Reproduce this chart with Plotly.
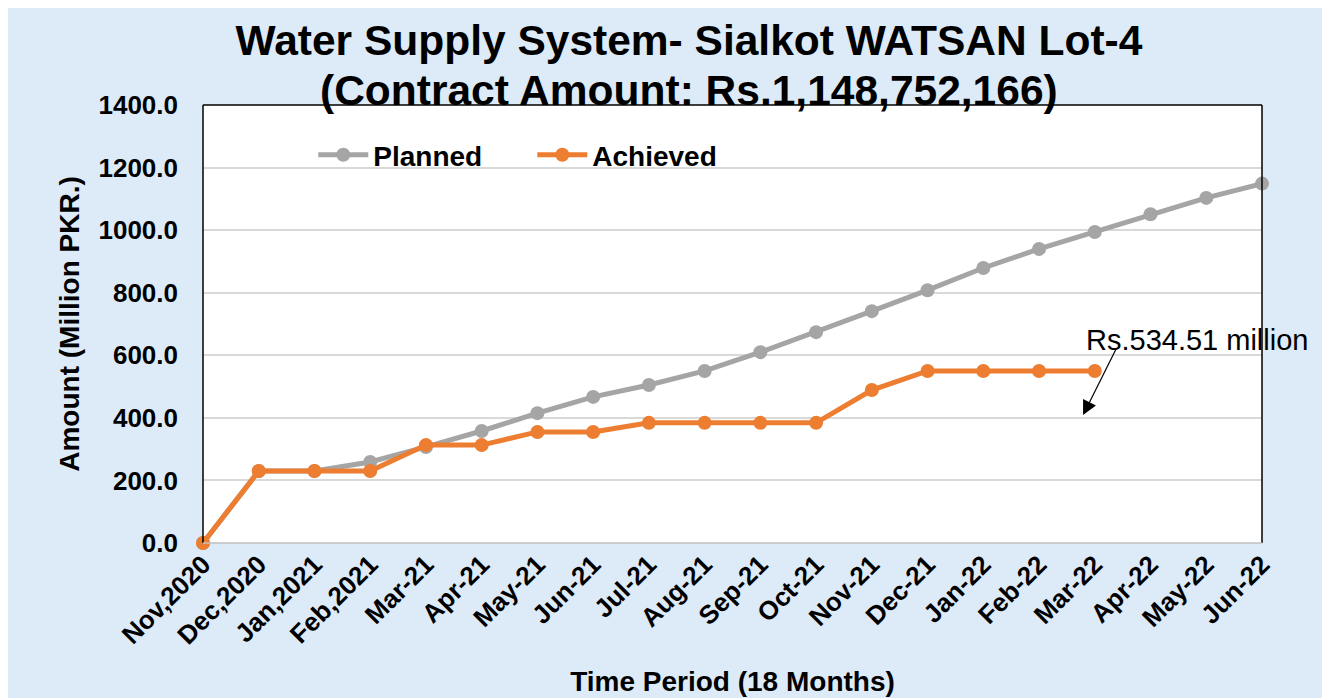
import plotly.graph_objects as go

months = ["Nov,2020", "Dec,2020", "Jan,2021", "Feb,2021", "Mar-21", "Apr-21", "May-21",
          "Jun-21", "Jul-21", "Aug-21", "Sep-21", "Oct-21", "Nov-21", "Dec-21",
          "Jan-22", "Feb-22", "Mar-22", "Apr-22", "May-22", "Jun-22"]
planned = [0, 230, 230, 259, 307, 358, 415, 467, 505, 550, 610, 674, 741, 808,
           879, 940, 994, 1051, 1103, 1148.75]
achieved = [0, 230, 230, 230, 313, 313, 355, 355, 384, 384, 384, 384, 489, 550,
            550, 550, 550]

title_line1 = "Water Supply System- Sialkot WATSAN Lot-4"
title_line2 = "(Contract Amount: Rs.1,148,752,166)"
note_text = "Rs.534.51 million"

FONT = "Liberation Sans, Arial, sans-serif"
BG = "#DDEAF7"

OFF = 8  # page body offset
W, H = 1330, 698
# target screen positions
PX_L, PX_R, PX_T, PX_B = 203, 1262, 105, 543
L = PX_L - OFF
T = PX_T - OFF
R = W - (PX_R - OFF)
B = H - (PX_B - OFF)
PW = PX_R - PX_L
PH = PX_B - PX_T


def px_x(sx):
    return (sx - PX_L) / PW


def px_y(sy):
    return (PX_B - sy) / PH


fig = go.Figure()
fig.add_trace(go.Scatter(x=months, y=planned, name="Planned", mode="lines+markers",
                         line=dict(color="#A5A5A5", width=5),
                         marker=dict(color="#A5A5A5", size=14), cliponaxis=False))
fig.add_trace(go.Scatter(x=months[:len(achieved)], y=achieved, name="Achieved",
                         mode="lines+markers",
                         line=dict(color="#ED7D31", width=5),
                         marker=dict(color="#ED7D31", size=14), cliponaxis=False))

fig.update_layout(
    width=W, height=H,
    margin=dict(l=L, r=R, t=T, b=B, autoexpand=False),
    paper_bgcolor=BG, plot_bgcolor="white",
    font=dict(family=FONT, color="black"),
    title=dict(text=title_line1, x=(689 - OFF) / W, xanchor="center",
               y=1 - (40 - OFF) / H, yanchor="middle", yref="container",
               font=dict(size=42.5, family=FONT, color="black", weight="bold")),
    showlegend=True,
    legend=dict(orientation="h", x=px_x(326) - 0.012, xanchor="left",
                y=px_y(155), yanchor="middle",
                bgcolor="rgba(0,0,0,0)", font=dict(size=28, weight="bold", family=FONT),
                entrywidth=154, entrywidthmode="pixels", itemwidth=50),
    xaxis=dict(type="category", range=[0, len(months) - 1], showgrid=False,
               tickangle=-45, tickfont=dict(size=26, weight="bold", family=FONT),
               showline=False, ticks="", automargin=False,
               title=dict(text="Time Period (18 Months)", standoff=22,
                          font=dict(size=28, weight="bold", family=FONT))),
    yaxis=dict(range=[0, 1400], dtick=200, tickformat=".1f", showgrid=True,
               gridcolor="#D9D9D9", gridwidth=1.5, zeroline=False, showline=False,
               tickfont=dict(size=26, weight="bold", family=FONT), ticks="",
               ticklabelstandoff=24, automargin=False,
               title=dict(text="Amount (Million PKR.)", standoff=10,
                          font=dict(size=28, weight="bold", family=FONT))),
)

# second title line
fig.add_annotation(xref="paper", yref="paper", x=px_x(689), y=px_y(91),
                   text=title_line2, showarrow=False, xanchor="center", yanchor="middle",
                   font=dict(size=42.5, family=FONT, color="black", weight="bold"))

# plot area border
fig.add_shape(type="line", xref="paper", yref="paper", x0=0, x1=0, y0=0, y1=1,
              line=dict(color="black", width=1.5))
fig.add_shape(type="line", xref="paper", yref="paper", x0=0, x1=1, y0=1, y1=1,
              line=dict(color="black", width=1.5))
fig.add_shape(type="line", xref="paper", yref="paper", x0=1, x1=1, y0=0, y1=1,
              line=dict(color="black", width=1.5))
fig.add_shape(type="line", xref="paper", yref="paper", x0=0, x1=1, y0=0, y1=0,
              line=dict(color="#BFBFBF", width=1.5))

# outer frame (left and top edges)
fig.add_shape(type="line", xref="paper", yref="paper", x0=px_x(7), x1=px_x(7),
              y0=px_y(760), y1=px_y(7), line=dict(color="black", width=1.5), layer="below")
fig.add_shape(type="line", xref="paper", yref="paper", x0=px_x(7), x1=px_x(1340),
              y0=px_y(7), y1=px_y(7), line=dict(color="black", width=1.5), layer="below")

# annotation
fig.add_annotation(x=17.83, y=649, xref="x", yref="y", text=note_text, showarrow=False,
                   font=dict(size=29, family=FONT, color="black"),
                   xanchor="center", yanchor="middle")
fig.add_annotation(x=15.79, y=409, xref="x", yref="y", text="", showarrow=True,
                   ax=34, ay=-68, arrowhead=2, arrowsize=2.4, arrowwidth=1.2,
                   arrowcolor="black")

fig.write_html("out.html")
